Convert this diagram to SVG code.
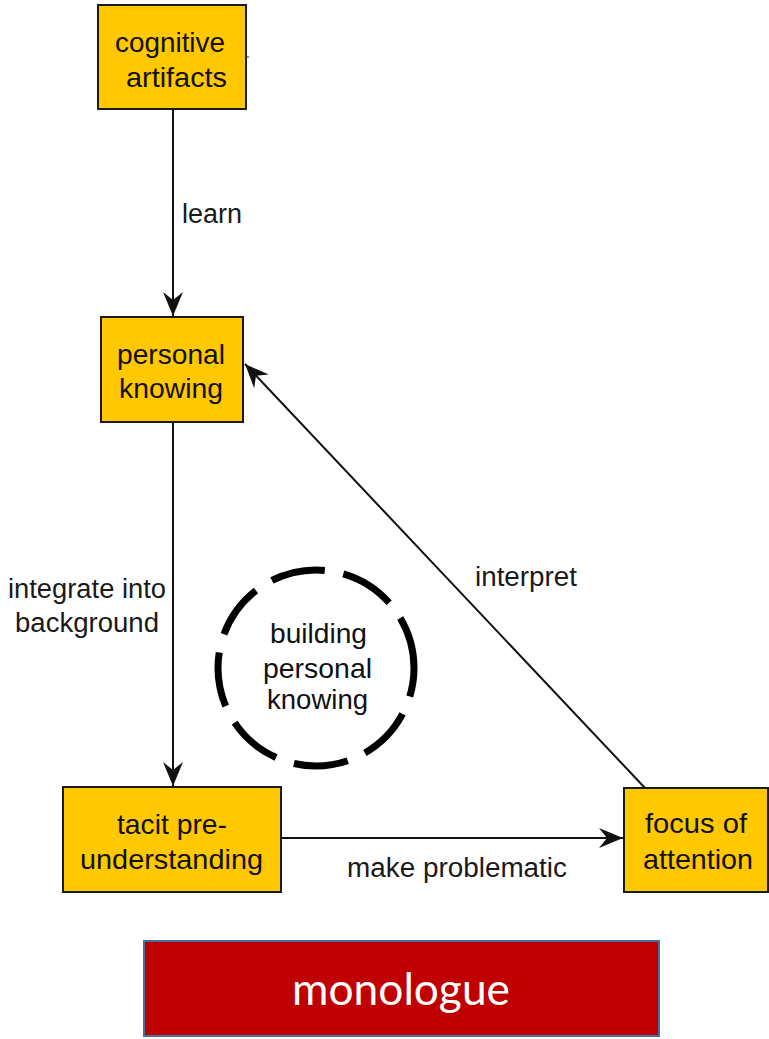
<svg xmlns="http://www.w3.org/2000/svg" width="769" height="1039" viewBox="0 0 769 1039">
  <style>
    .box { fill: #FFC800; stroke: #1a1a1a; stroke-width: 2; }
    .boxtext { font-family: "Liberation Sans", Arial, sans-serif; font-size: 28px; fill: #111; }
    .label { font-family: "Liberation Sans", Arial, sans-serif; font-size: 27px; fill: #1a1a1a; }
    .edge { fill: none; stroke: #111; stroke-width: 2; }
  </style>
  <defs>
    <marker id="arrow" markerUnits="userSpaceOnUse" markerWidth="26" markerHeight="24" viewBox="-25 -12 26 24" refX="0" refY="0" orient="auto">
      <path d="M0,0 L-24,-10 L-16,0 L-24,10 Z" fill="#111"/>
    </marker>
  </defs>

  <rect width="769" height="1039" fill="#ffffff"/>

  <!-- connectors -->
  <g id="connectors">
    <g id="edge-learn">
      <line class="edge" x1="173" y1="109" x2="173" y2="316" marker-end="url(#arrow)"/>
      <text class="label" x="182" y="223" textLength="60" lengthAdjust="spacingAndGlyphs">learn</text>
    </g>
    <g id="edge-integrate">
      <line class="edge" x1="173" y1="422" x2="173" y2="786" marker-end="url(#arrow)"/>
      <text class="label" x="8" y="598" textLength="158" lengthAdjust="spacingAndGlyphs">integrate into</text>
      <text class="label" x="15" y="632" textLength="144" lengthAdjust="spacingAndGlyphs">background</text>
    </g>
    <g id="edge-problematic">
      <line class="edge" x1="281" y1="838" x2="623" y2="838" marker-end="url(#arrow)"/>
      <text class="label" x="347" y="877" textLength="220" lengthAdjust="spacingAndGlyphs">make problematic</text>
    </g>
    <g id="edge-interpret">
      <line class="edge" x1="645" y1="788" x2="245" y2="364" stroke-width="1.8" marker-end="url(#arrow)"/>
      <text class="label" x="475" y="586" textLength="102" lengthAdjust="spacingAndGlyphs">interpret</text>
    </g>
  </g>

  <!-- nodes -->
  <g id="node-cognitive-artifacts">
    <rect class="box" x="98" y="5" width="148" height="104"/>
    <text class="boxtext" x="115" y="52" textLength="110" lengthAdjust="spacingAndGlyphs">cognitive</text>
    <text class="boxtext" x="126" y="87" textLength="101" lengthAdjust="spacingAndGlyphs">artifacts</text>
    <line x1="246" y1="57" x2="249" y2="57" stroke="#333" stroke-width="1"/>
  </g>

  <g id="node-personal-knowing">
    <rect class="box" x="101" y="317" width="142" height="105"/>
    <text class="boxtext" x="117" y="364" textLength="108" lengthAdjust="spacingAndGlyphs">personal</text>
    <text class="boxtext" x="119" y="398" textLength="104" lengthAdjust="spacingAndGlyphs">knowing</text>
  </g>

  <g id="node-tacit">
    <rect class="box" x="63" y="787" width="218" height="105"/>
    <text class="boxtext" x="117" y="834" textLength="110" lengthAdjust="spacingAndGlyphs">tacit pre-</text>
    <text class="boxtext" x="80" y="869" textLength="183" lengthAdjust="spacingAndGlyphs">understanding</text>
  </g>

  <g id="node-focus">
    <rect class="box" x="624" y="788" width="144" height="104"/>
    <text class="boxtext" x="645" y="833" textLength="102" lengthAdjust="spacingAndGlyphs">focus of</text>
    <text class="boxtext" x="643" y="869" textLength="110" lengthAdjust="spacingAndGlyphs">attention</text>
  </g>

  <g id="node-building">
    <circle cx="316" cy="668" r="98" fill="none" stroke="#000" stroke-width="7" stroke-dasharray="54.7 18.8" stroke-dashoffset="25.7"/>
    <text class="boxtext" x="270" y="643" textLength="97" lengthAdjust="spacingAndGlyphs">building</text>
    <text class="boxtext" x="263" y="678" textLength="109" lengthAdjust="spacingAndGlyphs">personal</text>
    <text class="boxtext" x="267" y="709" textLength="101" lengthAdjust="spacingAndGlyphs">knowing</text>
  </g>

  <g id="node-monologue">
    <rect x="144" y="941" width="515" height="95" fill="#C00000" stroke="#41719C" stroke-width="2"/>
    <text x="292" y="1005" font-family="Lato, 'Open Sans', sans-serif" font-size="44" fill="#ffffff" textLength="218" lengthAdjust="spacingAndGlyphs">monologue</text>
  </g>
</svg>
